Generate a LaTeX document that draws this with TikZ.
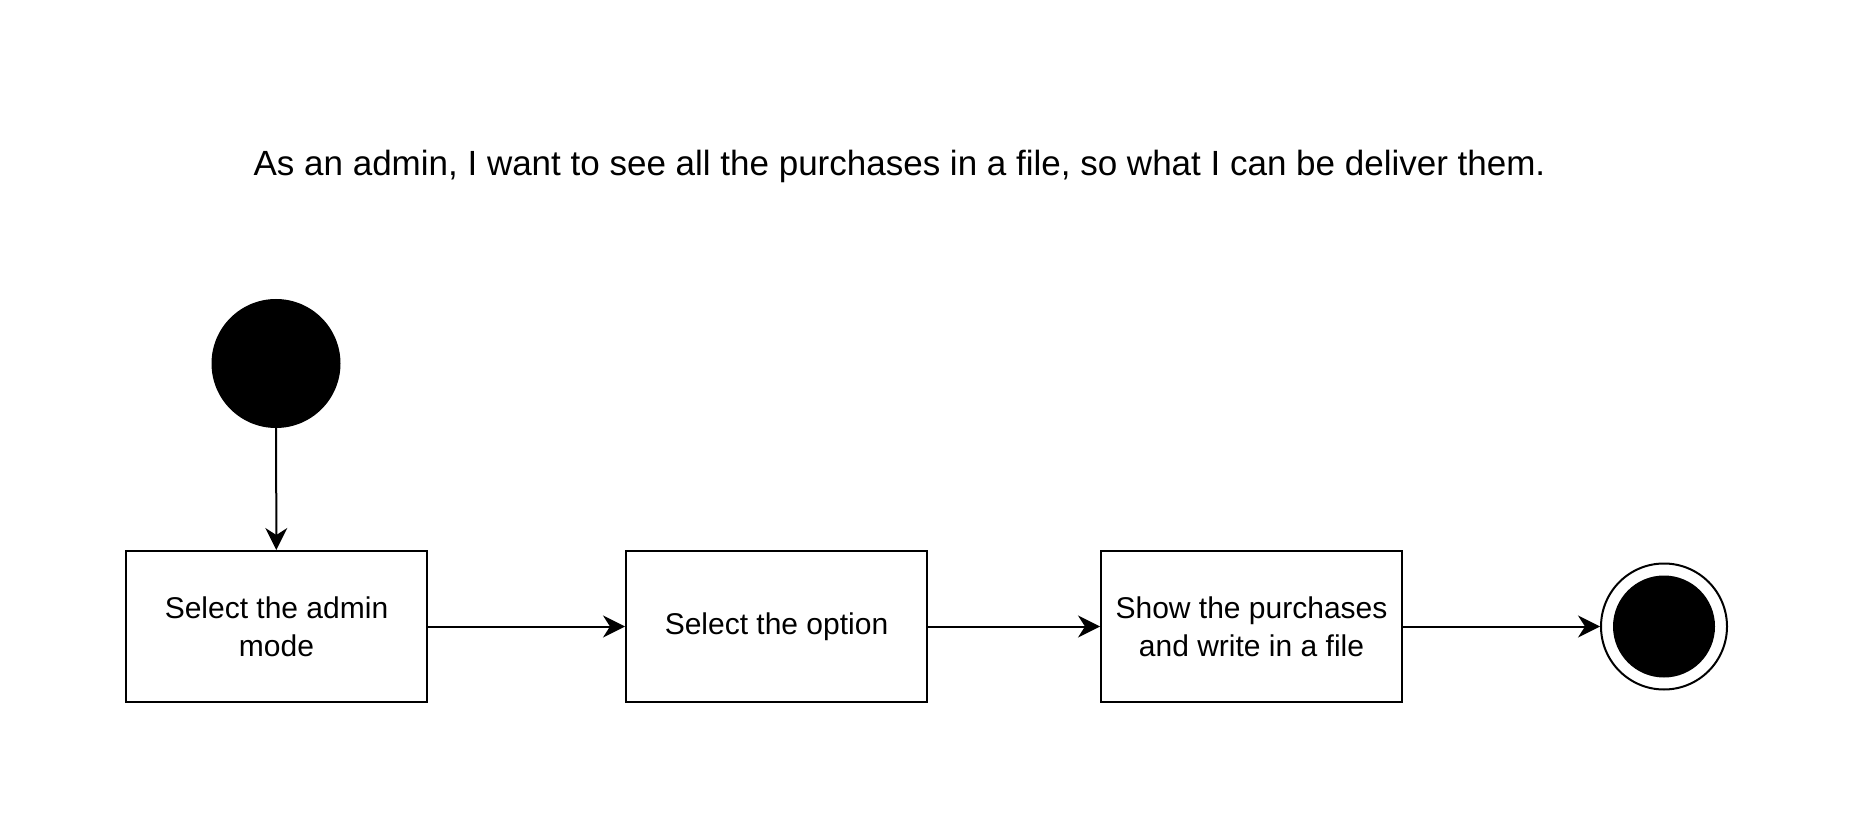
\documentclass[tikz,border=0pt]{standalone}
\usepackage{fontspec}
\setmainfont{Liberation Sans}
\usetikzlibrary{arrows.meta}
\begin{document}
\begin{tikzpicture}[x=0.5pt,y=-0.5pt,
  actbox/.style={draw=black,line width=1pt,minimum width=150.5pt,minimum height=75.5pt,inner sep=0pt,align=center,font=\fontsize{15}{19}\selectfont},
  flow/.style={draw=black,line width=1pt,-{Stealth[length=11pt,width=11pt,inset=3.5pt]}},
  startnode/.style={circle,fill=black,draw=black,line width=1pt,minimum size=63.5pt,inner sep=0pt},
  endnode/.style={circle,draw=black,line width=1pt,minimum size=63pt,inner sep=0pt}
]
\useasboundingbox (0,0) rectangle (1853,828);
\node[font=\fontsize{17.5}{20}\selectfont] (title) at (899.5,166) {As an admin, I want to see all the purchases in a file, so what I can be deliver them.};
\node[startnode] (start) at (276,363.5) {};
\node[actbox] (b1) at (276.5,626.5) {Select the admin\\mode};
\node[actbox] (b2) at (776.5,626.5) {Select the option};
\node[actbox] (b3) at (1251.5,626.5) {Show the purchases\\and write in a file};
\node[endnode] (end) at (1664,626.5) {};
\node[circle,fill=black,minimum size=51pt,inner sep=0pt] (endin) at (end.center) {};
\draw[flow] (start) -- (b1);
\draw[flow] (b1) -- (b2);
\draw[flow] (b2) -- (b3);
\draw[flow] (b3) -- (end);
\end{tikzpicture}
\end{document}
